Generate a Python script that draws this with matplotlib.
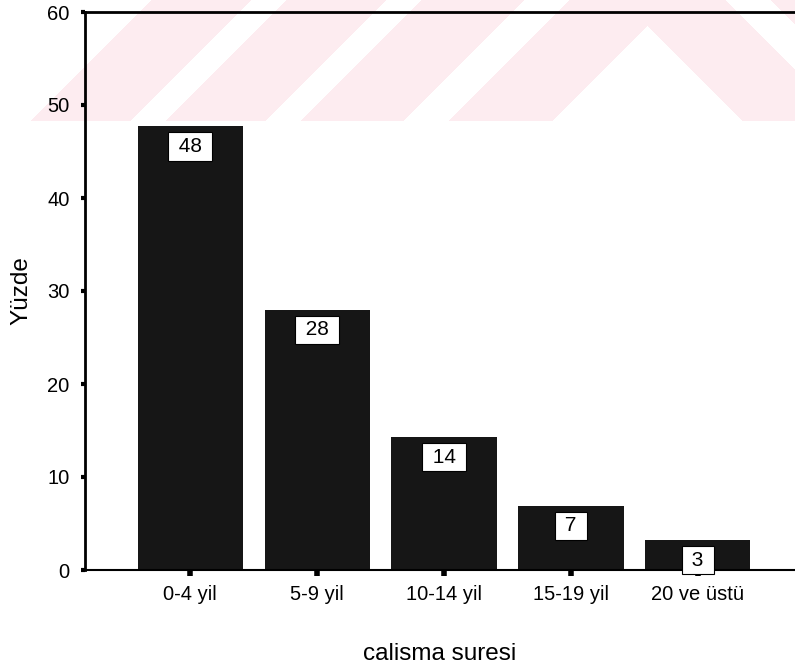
import numpy as np
import matplotlib
matplotlib.use("Agg")
import matplotlib.pyplot as plt

plt.rcParams['font.family'] = ['Liberation Sans', 'DejaVu Sans']

# data
categories = ["0-4 yil", "5-9 yil", "10-14 yil", "15-19 yil", "20 ve üstü"]
percent = [47.7, 28.0, 14.3, 6.9, 3.2]
value_labels = ["48", "28", "14", "7", "3"]

W, H = 795, 671
fig = plt.figure(figsize=(W / 100, H / 100), dpi=100, facecolor="white")

# faint pink watermark stripes in the top band of the scanned page
band_h = 121
yy, xx = np.mgrid[0:band_h, 0:W]
apex_x = 647
s = np.where(xx <= apex_x, xx, 2 * apex_x - xx) + yy - band_h
pink = np.zeros_like(s, dtype=bool)
for lo, hi in [(30, 130), (165, 265), (300, 403), (448, 552)]:
    pink |= (s >= lo) & (s < hi)
img = np.ones((band_h, W, 3))
img[pink] = np.array([253, 236, 240]) / 255
wm = fig.add_axes([0, 1 - band_h / H, 1, band_h / H], zorder=0)
wm.imshow(img, aspect="auto", interpolation="nearest")
wm.axis("off")

# main axes (right side is cut off by the scan)
ax = fig.add_axes([85 / W, 101 / H, 710 / W, 558 / H], zorder=1)
ax.patch.set_alpha(0)

x = np.arange(len(categories))
ax.bar(x, percent, width=0.827, color="#161616", zorder=2)

for xi, v, lab in zip(x, percent, value_labels):
    ax.annotate(f" {lab} ", (xi, v), xytext=(0, -14.5), textcoords="offset points",
                ha="center", va="center", fontsize=15, zorder=3,
                bbox=dict(boxstyle="square,pad=0.22", fc="white", ec="black", lw=0.8))

ax.set_xlim(-0.827, 4.764)
ax.set_ylim(0, 60)
ax.set_yticks(range(0, 61, 10))
ax.set_xticks(x)
ax.set_xticklabels(categories)
ax.tick_params(axis="y", length=3, width=3, pad=8, labelsize=14.5)
ax.tick_params(axis="x", length=4, width=4, pad=7, labelsize=14.5)

ax.spines["right"].set_visible(False)
ax.spines["left"].set_linewidth(2)
ax.spines["top"].set_linewidth(2)
ax.spines["bottom"].set_linewidth(1.5)

ax.set_ylabel("Yüzde", fontsize=17.5, labelpad=11)
ax.set_xlabel("calisma suresi", fontsize=17.5, labelpad=28)

fig.savefig("out.png", dpi=100)
